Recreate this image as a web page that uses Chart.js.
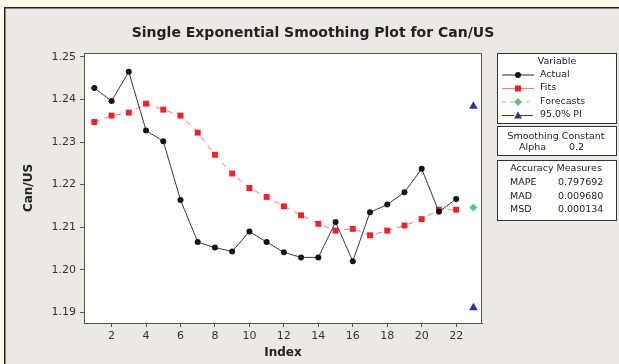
<!DOCTYPE html>
<html>
<head>
<meta charset="utf-8">
<script src="https://cdn.jsdelivr.net/npm/chart.js@4.4.0/dist/chart.umd.min.js"></script>
<style>
  html, body { margin: 0; padding: 0; background: #fdf9ea; }
  #wrap { width: 619px; height: 364px; }
</style>
</head>
<body>
<div id="wrap"><canvas id="grafico" width="619" height="364"></canvas></div>
<script>
// Dados
const indices = [1, 2, 3, 4, 5, 6, 7, 8, 9, 10, 11, 12, 13, 14, 15, 16, 17, 18, 19, 20, 21, 22];
const actual = [1.2427, 1.2396, 1.2465, 1.2327, 1.2302, 1.2164, 1.2065, 1.2052, 1.2043, 1.2090, 1.2065,
  1.2041, 1.2029, 1.2029, 1.2112, 1.2020, 1.2135, 1.2153, 1.2182, 1.2237, 1.2136, 1.2166];
const fits = [1.2347, 1.2362, 1.2369, 1.2390, 1.2376, 1.2362, 1.2322, 1.2270, 1.2226, 1.2192, 1.2171,
  1.2149, 1.2128, 1.2108, 1.2092, 1.2096, 1.2081, 1.2092, 1.2104, 1.2119, 1.2141, 1.2141];
const forecastIndex = [23];
const forecast = [1.2146];
const piUpper = [1.2384];
const piLower = [1.1911];

const xTicks = [2, 4, 6, 8, 10, 12, 14, 16, 18, 20, 22];
const yTicks = [1.19, 1.20, 1.21, 1.22, 1.23, 1.24, 1.25];

const titulo = 'Single Exponential Smoothing Plot for Can/US';
const legendaVariaveis = ['Actual', 'Fits', 'Forecasts', '95.0% PI'];
const alphaValor = '0.2';
const medidasNomes = ['MAPE', 'MAD', 'MSD'];
const medidasValores = ['0.797692', '0.009680', '0.000134'];

const fonte = '"DejaVu Sans", Verdana, sans-serif';
const corTexto = '#222';

// Fundo, moldura e título
const fundoPlugin = {
  id: 'fundo',
  beforeDraw(chart) {
    const { ctx, chartArea: a } = chart;
    ctx.save();
    ctx.fillStyle = '#fdf9ea';
    ctx.fillRect(0, 0, chart.width, chart.height);
    ctx.fillStyle = '#ece9e5';
    ctx.fillRect(4, 7, chart.width - 4, chart.height - 7);
    ctx.strokeStyle = '#222';
    ctx.lineWidth = 1.5;
    ctx.beginPath();
    ctx.moveTo(4.75, chart.height);
    ctx.lineTo(4.75, 7.75);
    ctx.lineTo(chart.width, 7.75);
    ctx.stroke();
    ctx.fillStyle = '#fff';
    ctx.fillRect(a.left, a.top, a.right - a.left, a.bottom - a.top);
    ctx.strokeStyle = '#555';
    ctx.lineWidth = 1;
    ctx.strokeRect(a.left + 0.5, a.top + 0.5, a.right - a.left - 1, a.bottom - a.top);
    ctx.fillStyle = corTexto;
    ctx.font = 'bold 14px ' + fonte;
    ctx.textAlign = 'center';
    ctx.textBaseline = 'middle';
    ctx.fillText(titulo, 313, 33);
    ctx.restore();
  }
};

function marcador(ctx, tipo, x, y, cor) {
  ctx.fillStyle = cor;
  ctx.beginPath();
  if (tipo === 'circle') {
    ctx.arc(x, y, 3, 0, Math.PI * 2);
  } else if (tipo === 'rect') {
    ctx.rect(x - 3, y - 3, 6, 6);
  } else if (tipo === 'rectRot') {
    ctx.moveTo(x, y - 4); ctx.lineTo(x + 4, y); ctx.lineTo(x, y + 4); ctx.lineTo(x - 4, y);
  } else {
    ctx.moveTo(x, y - 4); ctx.lineTo(x + 4, y + 3); ctx.lineTo(x - 4, y + 3);
  }
  ctx.closePath();
  ctx.fill();
}

// Caixas de legenda à direita
const legendaPlugin = {
  id: 'legendaMinitab',
  afterDraw(chart) {
    const ctx = chart.ctx;
    ctx.save();
    ctx.strokeStyle = '#333';
    ctx.lineWidth = 1;
    ctx.fillStyle = '#fff';
    [[497, 53, 119, 70], [497, 126, 119, 29], [497, 160, 119, 60]].forEach(b => {
      ctx.fillRect(b[0], b[1], b[2], b[3]);
      ctx.strokeRect(b[0] + 0.5, b[1] + 0.5, b[2], b[3]);
    });
    ctx.font = '9.5px ' + fonte;
    ctx.fillStyle = corTexto;
    ctx.textBaseline = 'middle';
    ctx.textAlign = 'center';
    ctx.fillText('Variable', 557, 62);

    const estilos = chart.data.datasets.slice(0, 4);
    const ys = [74.5, 88, 101.5, 115];
    estilos.forEach((ds, i) => {
      const y = ys[i];
      ctx.strokeStyle = ds.legendLine;
      ctx.lineWidth = 1;
      ctx.setLineDash(ds.legendDash || []);
      ctx.beginPath();
      ctx.moveTo(502, y + 0.5);
      ctx.lineTo(534, y + 0.5);
      ctx.stroke();
      ctx.setLineDash([]);
      marcador(ctx, ds.pointStyle, 518, y + 0.5, ds.pointBackgroundColor);
      ctx.fillStyle = corTexto;
      ctx.textAlign = 'left';
      ctx.fillText(legendaVariaveis[i], 540, y);
    });

    ctx.textAlign = 'center';
    ctx.fillText('Smoothing Constant', 556, 137);
    ctx.textAlign = 'left';
    ctx.fillText('Alpha', 519, 148);
    ctx.fillText(alphaValor, 569, 148);

    ctx.textAlign = 'center';
    ctx.fillText('Accuracy Measures', 556, 168.5);
    ctx.textAlign = 'left';
    medidasNomes.forEach((n, i) => {
      const y = 183 + i * 13.2;
      ctx.fillText(n, 510, y);
      ctx.fillText(medidasValores[i], 558, y);
    });
    ctx.restore();
  }
};

const pares = (xs, ys) => xs.map((x, i) => ({ x, y: ys[i] }));

new Chart(document.getElementById('grafico'), {
  type: 'line',
  data: {
    datasets: [
      {
        label: 'Actual',
        data: pares(indices, actual),
        borderColor: '#3a3a3a',
        borderWidth: 1,
        pointStyle: 'circle',
        pointRadius: 3,
        pointBackgroundColor: '#151515',
        pointBorderWidth: 0,
        legendLine: '#222',
        tension: 0
      },
      {
        label: 'Fits',
        data: pares(indices, fits),
        borderColor: '#f07a7e',
        borderWidth: 1,
        borderDash: [6, 5],
        pointStyle: 'rect',
        pointRadius: 4.2,
        pointBackgroundColor: '#e8242c',
        pointBorderWidth: 0,
        legendLine: '#f07a7e',
        tension: 0
      },
      {
        label: 'Forecasts',
        data: pares(forecastIndex, forecast),
        showLine: false,
        pointStyle: 'rectRot',
        pointRadius: 4,
        pointBackgroundColor: '#5cc47a',
        pointBorderWidth: 0,
        legendLine: '#7ccf92',
        legendDash: [4, 4]
      },
      {
        label: '95.0% PI',
        data: pares(forecastIndex.concat(forecastIndex), piUpper.concat(piLower)),
        showLine: false,
        pointStyle: 'triangle',
        pointRadius: 5,
        pointBackgroundColor: '#2a3690',
        pointBorderWidth: 0,
        legendLine: '#2a3690',
        legendDash: [12, 5, 14, 5]
      }
    ]
  },
  options: {
    responsive: false,
    devicePixelRatio: 1,
    animation: false,
    layout: { padding: { left: 0, top: 53, right: 137, bottom: 0 } },
    plugins: { legend: { display: false }, tooltip: { enabled: false } },
    scales: {
      x: {
        type: 'linear',
        min: 0.4,
        max: 23.5,
        afterBuildTicks: s => { s.ticks = xTicks.map(v => ({ value: v })); },
        afterFit: s => { s.height = 41; },
        grid: { drawOnChartArea: false, drawTicks: true, tickLength: 4, color: '#555' },
        border: { display: true, color: '#555' },
        ticks: { color: '#333', font: { family: fonte, size: 11 }, padding: 3, maxRotation: 0 },
        title: { display: true, text: 'Index', color: '#222', font: { family: fonte, size: 12, weight: 'bold' }, padding: { bottom: 4 } }
      },
      y: {
        min: 1.1875,
        max: 1.2509,
        afterBuildTicks: s => { s.ticks = yTicks.map(v => ({ value: v })); },
        afterFit: s => { s.width = 84; },
        grid: { drawOnChartArea: false, drawTicks: true, tickLength: 4, color: '#555' },
        border: { display: true, color: '#555' },
        ticks: { color: '#333', font: { family: fonte, size: 11 }, padding: 4, callback: v => v.toFixed(2) },
        title: { display: true, text: 'Can/US', color: '#222', font: { family: fonte, size: 12, weight: 'bold' }, padding: { top: 22 } }
      }
    }
  },
  plugins: [fundoPlugin, legendaPlugin]
});
</script>
</body>
</html>
